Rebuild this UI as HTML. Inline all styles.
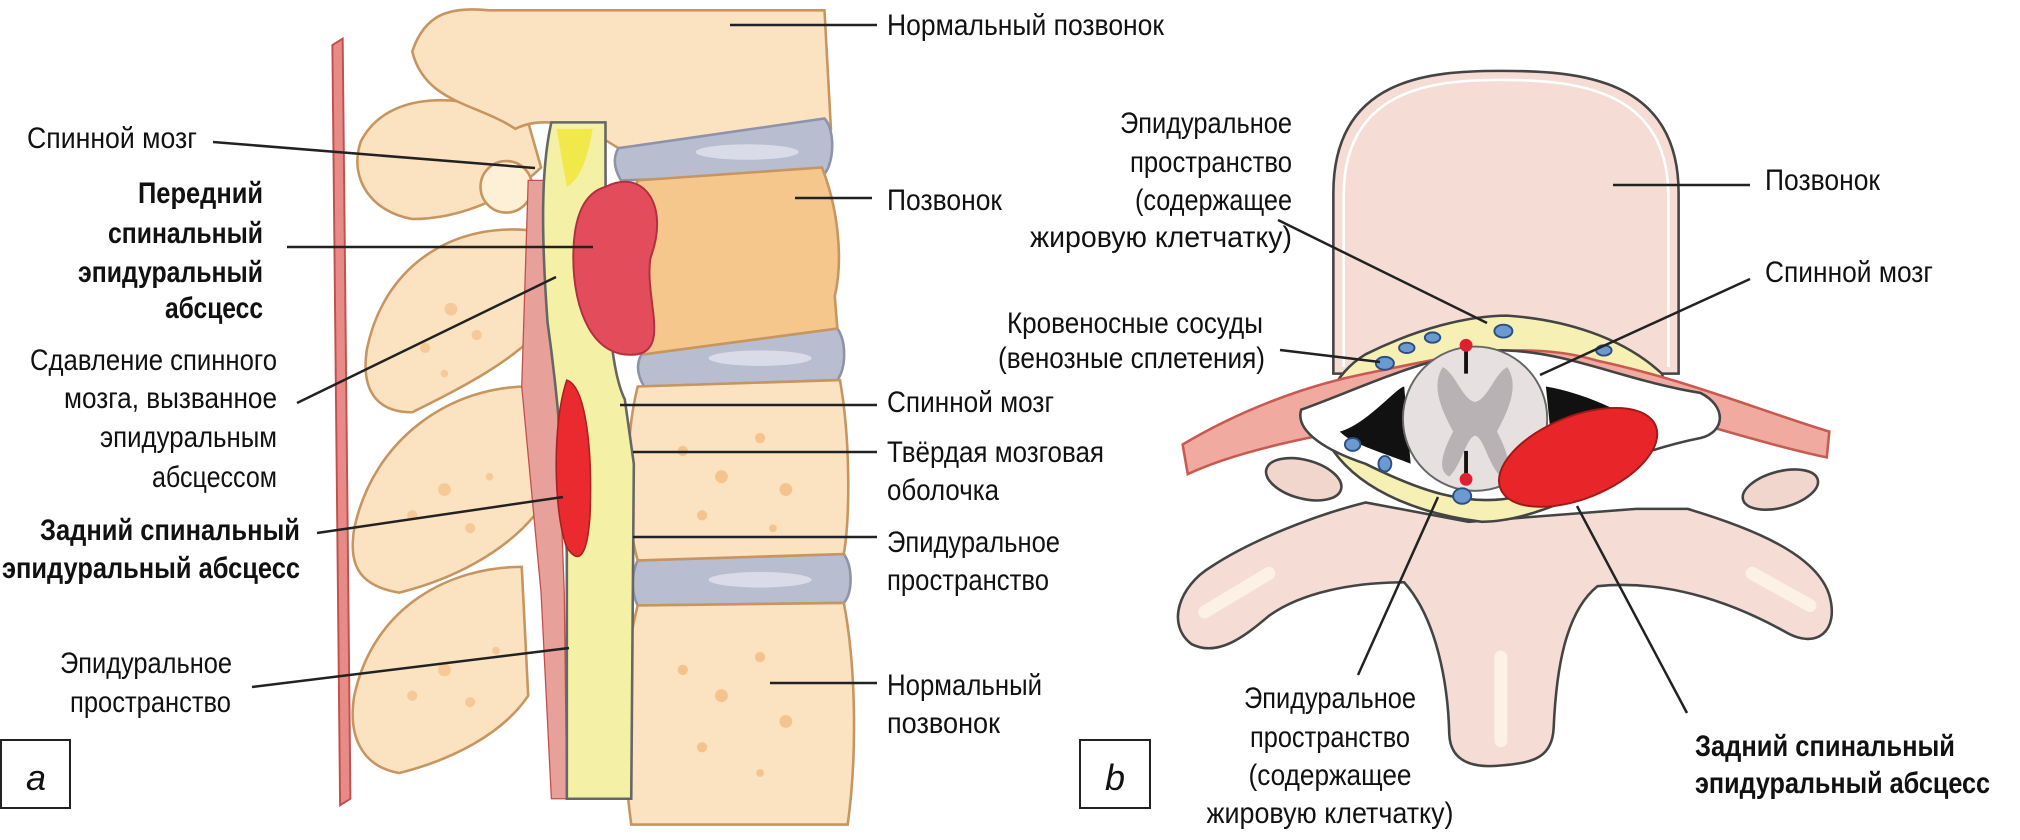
<!DOCTYPE html>
<html><head><meta charset="utf-8"><style>
html,body{margin:0;padding:0;background:#fff;}
.wrap{position:relative;width:2020px;height:840px;overflow:hidden;}
svg{display:block;position:absolute;left:0;top:0;}
text{font-family:"Liberation Sans","DejaVu Sans",sans-serif;font-size:30px;fill:#111;}
.b{font-weight:bold;}
.l{stroke:#222;stroke-width:2.5;fill:none;}
</style></head><body><div class="wrap">
<svg width="2020" height="840" viewBox="0 0 1568 652" preserveAspectRatio="none">
<path d="M258 35 L266 30 L272 620 L264 625 Z" fill="#e88a86" stroke="#c0504d" stroke-width="1.5"/>
<g fill="#fbe3c2" stroke="#c79560" stroke-width="2">
<path d="M280 110 C300 70 360 70 410 95 L420 130 C400 150 360 170 320 170 C290 165 270 140 280 110Z"/>
<path d="M285 270 C300 200 360 170 420 180 L425 250 C400 280 360 300 320 320 C290 320 280 300 285 270Z"/>
<path d="M275 410 C290 340 350 300 410 300 L415 400 C390 430 350 450 310 460 C280 455 270 440 275 410Z"/>
<path d="M275 540 C290 470 350 440 405 440 L410 540 C390 570 350 590 310 600 C280 595 270 570 275 540Z"/>
</g>
<g fill="#f5c48e" opacity="0.8">
<circle cx="330" cy="270" r="4"/><circle cx="350" cy="240" r="5"/><circle cx="370" cy="260" r="4"/><circle cx="345" cy="290" r="3"/>
<circle cx="320" cy="400" r="4"/><circle cx="345" cy="380" r="5"/><circle cx="365" cy="410" r="4"/><circle cx="380" cy="370" r="3"/>
<circle cx="320" cy="540" r="4"/><circle cx="345" cy="520" r="5"/><circle cx="365" cy="545" r="4"/><circle cx="385" cy="505" r="3"/>
</g>
<circle cx="393" cy="145" r="20" fill="#fdf0d6" stroke="#c79560" stroke-width="2"/>
<path d="M410 140 L425 140 L432 300 L438 460 L440 620 L428 620 L420 460 L405 300 Z" fill="#e8a09a" stroke="#c0504d" stroke-width="1"/>
<path d="M320 40 C330 10 350 5 380 8 L640 8 L645 100 L480 115 C450 95 420 90 400 100 C370 80 330 80 320 40Z" fill="#fbe3c2" stroke="#c79560" stroke-width="2"/>
<g fill="#b8bdd0" stroke="#8e93a8" stroke-width="2">
<path d="M480 115 L640 92 C648 100 648 125 640 135 L482 140 C476 130 476 122 480 115Z"/>
<path d="M498 275 L650 255 C657 265 657 285 650 295 L500 300 C494 290 494 282 498 275Z"/>
<path d="M495 435 L655 430 C662 440 662 460 655 468 L495 470 C490 460 490 445 495 435Z"/>
</g>
<g fill="#d9dce8">
<ellipse cx="580" cy="118" rx="40" ry="6"/><ellipse cx="590" cy="278" rx="40" ry="6"/><ellipse cx="590" cy="450" rx="40" ry="6"/>
</g>
<path d="M495 140 L638 130 C650 160 655 200 648 230 L650 255 L500 275 C480 230 480 180 495 140Z" fill="#f6c78d" stroke="#c79560" stroke-width="2"/>
<path d="M495 300 L652 295 C660 340 660 400 655 430 L495 435 C485 400 485 340 495 300Z" fill="#fbe3c2" stroke="#c79560" stroke-width="2"/>
<path d="M495 470 L655 468 C665 520 665 590 658 640 L490 640 C482 580 482 520 495 470Z" fill="#fbe3c2" stroke="#c79560" stroke-width="2"/>
<g fill="#f5c48e">
<circle cx="530" cy="350" r="4"/><circle cx="560" cy="370" r="5"/><circle cx="590" cy="340" r="4"/><circle cx="610" cy="380" r="5"/><circle cx="545" cy="400" r="4"/><circle cx="600" cy="410" r="3"/>
<circle cx="530" cy="520" r="4"/><circle cx="560" cy="540" r="5"/><circle cx="590" cy="510" r="4"/><circle cx="610" cy="560" r="5"/><circle cx="545" cy="580" r="4"/><circle cx="590" cy="600" r="3"/>
</g>
<path d="M428 95 L470 95 C470 200 470 280 485 310 L492 360 L490 620 L440 620 L440 430 C438 360 432 300 425 250 C420 180 420 130 428 95Z" fill="#f4f1a6" stroke="#666" stroke-width="2"/>
<path d="M432 100 L460 100 C455 130 448 140 440 145 Z" fill="#f1e84a"/>
<path d="M470 145 C500 130 520 160 505 200 C500 230 520 270 495 275 C460 280 445 240 445 200 C445 170 452 150 470 145Z" fill="#e34c5a" stroke="#b03040" stroke-width="1.5"/>
<path d="M440 295 C455 300 460 350 458 400 C456 430 450 440 440 425 C430 400 428 330 440 295Z" fill="#ea2a2e" stroke="#a82020" stroke-width="1.2"/>

<path d="M1060 390 C1020 400 970 420 940 440 C915 455 905 485 925 500 C945 510 965 495 985 478 C1010 460 1050 452 1090 452 C1115 480 1124 530 1125 570 C1126 595 1150 596 1167 594 C1190 592 1205 588 1206 565 C1208 520 1215 475 1240 455 C1290 450 1340 465 1385 490 C1410 505 1428 490 1420 462 C1410 430 1360 410 1310 395 L1270 395 L1140 405 Z" fill="#f5ddd5" stroke="#444" stroke-width="2"/>
<g fill="none" stroke="#fff6e8" stroke-width="10" stroke-linecap="round" opacity="0.8">
<path d="M935 475 L985 445"/><path d="M1165 510 L1165 575"/><path d="M1360 445 L1405 470"/>
</g>
<ellipse cx="1012" cy="372" rx="30" ry="15" fill="#f0d6cc" stroke="#444" stroke-width="2" transform="rotate(15 1012 372)"/>
<ellipse cx="1382" cy="380" rx="30" ry="14" fill="#f0d6cc" stroke="#444" stroke-width="2" transform="rotate(-15 1382 380)"/>
<path d="M1035 290 L1035 150 C1035 60 1110 55 1165 55 C1225 55 1303 60 1303 150 L1303 290 Z" fill="#f5ddd5" stroke="#444" stroke-width="2"/>
<path d="M1043 285 L1043 152 C1043 70 1110 62 1165 62 C1225 62 1295 70 1295 152 L1295 285" fill="none" stroke="#fff" stroke-width="2"/>
<path d="M1060 275 C1100 255 1140 245 1170 245 C1215 248 1260 262 1290 290 C1300 320 1290 345 1260 365 C1220 390 1180 405 1150 405 C1110 400 1060 385 1035 350 C1020 320 1035 290 1060 275Z" fill="#f6f0b4" stroke="#444" stroke-width="2"/>
<path d="M918 345 C960 320 1010 300 1060 290 C1120 278 1180 262 1240 280 C1310 295 1370 320 1420 335 L1418 355 C1370 345 1310 325 1250 310 C1190 300 1130 315 1070 330 C1020 338 960 350 922 368 Z" fill="#f0aaa0" stroke="#c85a52" stroke-width="2"/>
<path d="M1010 318 C1060 300 1120 270 1170 272 C1220 274 1260 295 1320 305 C1340 315 1340 335 1320 340 C1270 350 1230 370 1180 385 C1140 395 1100 380 1060 360 C1030 350 1005 335 1010 318Z" fill="#fff" stroke="#444" stroke-width="2"/>
<path d="M1040 335 C1060 330 1085 300 1090 300 L1095 360 C1070 350 1050 345 1040 335Z" fill="#111"/>
<path d="M1200 300 C1230 305 1260 320 1275 330 C1250 340 1230 345 1205 350 Z" fill="#111"/>
<circle cx="1145" cy="325" r="56" fill="#e6e0e0" stroke="#666" stroke-width="1.5"/>
<path d="M1120 285 C1110 300 1120 320 1128 335 C1120 350 1115 365 1125 370 C1135 360 1138 340 1145 338 C1152 340 1155 360 1165 370 C1175 365 1170 350 1162 335 C1170 320 1180 300 1170 285 C1160 290 1155 310 1145 312 C1135 310 1130 290 1120 285Z" fill="#b9b2b4"/>
<line x1="1138" y1="272" x2="1138" y2="290" stroke="#111" stroke-width="3"/>
<line x1="1138" y1="350" x2="1138" y2="372" stroke="#111" stroke-width="3"/>
<circle cx="1138" cy="268" r="5" fill="#e02030"/>
<circle cx="1138" cy="372" r="5" fill="#e02030"/>
<g fill="#6a9ad0" stroke="#2d4e80" stroke-width="1.5">
<ellipse cx="1075" cy="282" rx="7" ry="5"/><ellipse cx="1092" cy="270" rx="6" ry="4"/><ellipse cx="1112" cy="262" rx="6" ry="4"/>
<ellipse cx="1167" cy="257" rx="7" ry="5"/><ellipse cx="1245" cy="272" rx="6" ry="4"/>
<ellipse cx="1050" cy="345" rx="6" ry="5"/><ellipse cx="1075" cy="360" rx="5" ry="6"/><ellipse cx="1135" cy="385" rx="7" ry="6"/>
</g>
<ellipse cx="1225" cy="355" rx="65" ry="32" transform="rotate(-22 1225 355)" fill="#e8262a" stroke="#a01818" stroke-width="1.5"/>
</svg>

<svg width="2020" height="840" viewBox="0 0 2020 840">
<line class="l" x1="213" y1="142" x2="535" y2="168"/>
<line class="l" x1="287" y1="247" x2="593" y2="247"/>
<line class="l" x1="297" y1="403" x2="556" y2="277"/>
<line class="l" x1="317" y1="533" x2="563" y2="497"/>
<line class="l" x1="252" y1="687" x2="569" y2="648"/>
<line class="l" x1="730" y1="25" x2="877" y2="25"/>
<line class="l" x1="795" y1="198" x2="872" y2="198"/>
<line class="l" x1="620" y1="405" x2="877" y2="405"/>
<line class="l" x1="633" y1="452" x2="877" y2="452"/>
<line class="l" x1="633" y1="537" x2="877" y2="537"/>
<line class="l" x1="770" y1="683" x2="877" y2="683"/>
<line class="l" x1="1278" y1="220" x2="1487" y2="323"/>
<line class="l" x1="1280" y1="350" x2="1380" y2="362"/>
<line class="l" x1="1613" y1="185" x2="1750" y2="185"/>
<line class="l" x1="1750" y1="279" x2="1540" y2="375"/>
<line class="l" x1="1687" y1="713" x2="1577" y2="506"/>
<line class="l" x1="1358" y1="675" x2="1438" y2="497"/>

<text x="27" y="148" textLength="170" lengthAdjust="spacingAndGlyphs">Спинной мозг</text>
<g text-anchor="end" class="b">
<text x="263" y="203" class="b" textLength="125" lengthAdjust="spacingAndGlyphs">Передний</text>
<text x="263" y="243" class="b" textLength="155" lengthAdjust="spacingAndGlyphs">спинальный</text>
<text x="263" y="282" class="b" textLength="185" lengthAdjust="spacingAndGlyphs">эпидуральный</text>
<text x="263" y="318" class="b" textLength="98" lengthAdjust="spacingAndGlyphs">абсцесс</text>
<text x="300" y="540" class="b" textLength="260" lengthAdjust="spacingAndGlyphs">Задний спинальный</text>
<text x="300" y="578" class="b" textLength="298" lengthAdjust="spacingAndGlyphs">эпидуральный абсцесс</text>
</g>
<g text-anchor="end">
<text x="277" y="370" textLength="247" lengthAdjust="spacingAndGlyphs">Сдавление спинного</text>
<text x="277" y="408" textLength="213" lengthAdjust="spacingAndGlyphs">мозга, вызванное</text>
<text x="277" y="447" textLength="177" lengthAdjust="spacingAndGlyphs">эпидуральным</text>
<text x="277" y="487" textLength="125" lengthAdjust="spacingAndGlyphs">абсцессом</text>
</g>
<text x="60" y="673" textLength="172" lengthAdjust="spacingAndGlyphs">Эпидуральное</text>
<text x="70" y="712" textLength="161" lengthAdjust="spacingAndGlyphs">пространство</text>
<text x="887" y="35" textLength="277" lengthAdjust="spacingAndGlyphs">Нормальный позвонок</text>
<text x="887" y="210" textLength="115" lengthAdjust="spacingAndGlyphs">Позвонок</text>
<text x="887" y="412" textLength="167" lengthAdjust="spacingAndGlyphs">Спинной мозг</text>
<text x="887" y="462" textLength="217" lengthAdjust="spacingAndGlyphs">Твёрдая мозговая</text>
<text x="887" y="500" textLength="112" lengthAdjust="spacingAndGlyphs">оболочка</text>
<text x="887" y="552" textLength="173" lengthAdjust="spacingAndGlyphs">Эпидуральное</text>
<text x="887" y="590" textLength="162" lengthAdjust="spacingAndGlyphs">пространство</text>
<text x="887" y="695" textLength="155" lengthAdjust="spacingAndGlyphs">Нормальный</text>
<text x="887" y="733" textLength="113" lengthAdjust="spacingAndGlyphs">позвонок</text>
<rect x="1" y="740" width="69" height="68" fill="none" stroke="#222" stroke-width="2"/>
<text x="36" y="790" text-anchor="middle" style="font-style:italic;font-size:36px">a</text>

<g text-anchor="end">
<text x="1292" y="133" textLength="172" lengthAdjust="spacingAndGlyphs">Эпидуральное</text>
<text x="1292" y="172" textLength="162" lengthAdjust="spacingAndGlyphs">пространство</text>
<text x="1292" y="210" textLength="157" lengthAdjust="spacingAndGlyphs">(содержащее</text>
<text x="1292" y="247" textLength="262" lengthAdjust="spacingAndGlyphs">жировую клетчатку)</text>
<text x="1263" y="333" textLength="256" lengthAdjust="spacingAndGlyphs">Кровеносные сосуды</text>
<text x="1265" y="368" textLength="267" lengthAdjust="spacingAndGlyphs">(венозные сплетения)</text>
</g>
<text x="1765" y="190" textLength="115" lengthAdjust="spacingAndGlyphs">Позвонок</text>
<text x="1765" y="282" textLength="168" lengthAdjust="spacingAndGlyphs">Спинной мозг</text>
<g text-anchor="middle">
<text x="1330" y="708" textLength="172" lengthAdjust="spacingAndGlyphs">Эпидуральное</text>
<text x="1330" y="747" textLength="160" lengthAdjust="spacingAndGlyphs">пространство</text>
<text x="1330" y="785" textLength="163" lengthAdjust="spacingAndGlyphs">(содержащее</text>
<text x="1330" y="823" textLength="247" lengthAdjust="spacingAndGlyphs">жировую клетчатку)</text>
</g>
<text x="1695" y="756" class="b" textLength="260" lengthAdjust="spacingAndGlyphs">Задний спинальный</text>
<text x="1695" y="793" class="b" textLength="295" lengthAdjust="spacingAndGlyphs">эпидуральный абсцесс</text>
<rect x="1080" y="740" width="70" height="68" fill="none" stroke="#222" stroke-width="2"/>
<text x="1115" y="790" text-anchor="middle" style="font-style:italic;font-size:36px">b</text>
</svg>
</div></body></html>
